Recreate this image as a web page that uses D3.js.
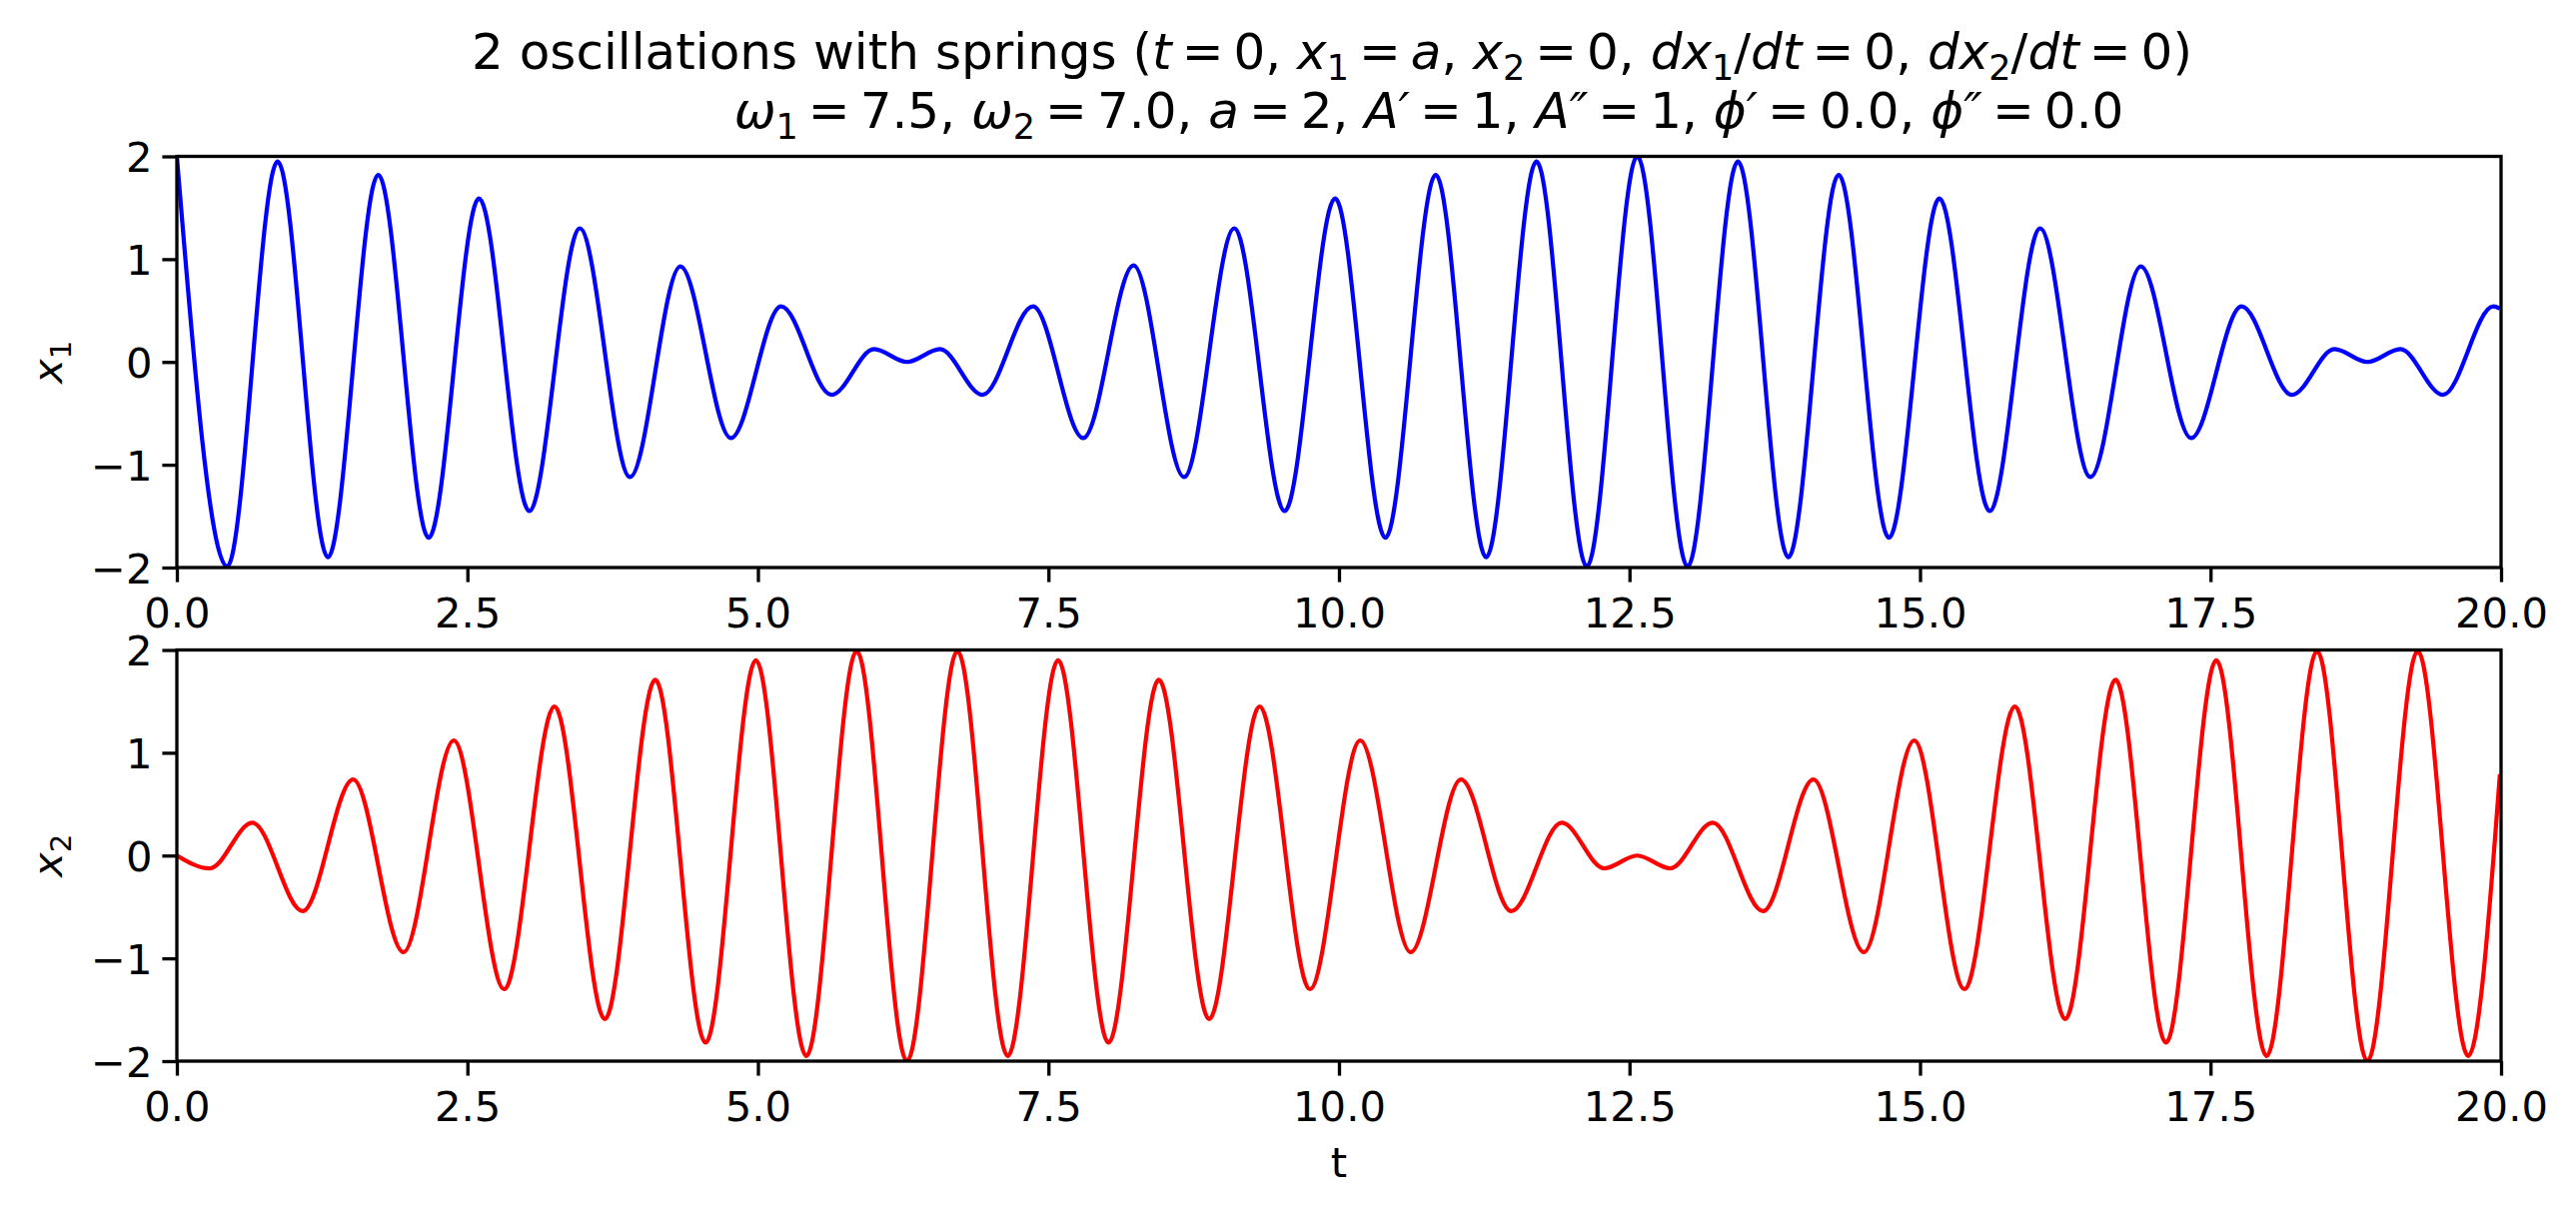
<!DOCTYPE html>
<html>
<head>
<meta charset="utf-8">
<script src="https://cdn.jsdelivr.net/npm/d3@7"></script>
<style>
  html, body { margin: 0; padding: 0; background: #fff; }
  text { font-family: "DejaVu Sans", sans-serif; fill: #000; }
</style>
</head>
<body>
<svg id="chart" width="2578" height="1218"></svg>
<script>
// extrema (t, value), plus the end points
const t1 = [0, 0.433, 0.867, 1.30, 1.733, 2.167, 2.60, 3.033, 3.467, 3.90, 4.333, 4.767, 5.20, 5.633,
            6.00, 6.283, 6.566, 6.933, 7.367, 7.80, 8.233, 8.667, 9.10, 9.533, 9.967, 10.40, 10.833,
            11.267, 11.70, 12.133, 12.567, 13.00, 13.433, 13.867, 14.30, 14.733, 15.167, 15.60, 16.033,
            16.467, 16.90, 17.333, 17.767, 18.20, 18.567, 18.85, 19.133, 19.50, 19.933, 19.99];
const x1 = [2.00, -1.99, 1.95, -1.90, 1.82, -1.71, 1.59, -1.45, 1.30, -1.12, 0.93, -0.74, 0.54, -0.32,
            0.125, 0.00, 0.125, -0.32, 0.54, -0.74, 0.94, -1.12, 1.30, -1.45, 1.59, -1.71, 1.82,
            -1.90, 1.95, -1.99, 2.00, -1.99, 1.95, -1.90, 1.82, -1.71, 1.59, -1.45, 1.30,
            -1.12, 0.93, -0.74, 0.54, -0.32, 0.125, 0.00, 0.125, -0.32, 0.54, 0.52];

const t2 = [0, 0.283, 0.65, 1.083, 1.517, 1.95, 2.383, 2.817, 3.25, 3.683, 4.117, 4.55, 4.983, 5.417,
            5.85, 6.283, 6.717, 7.15, 7.583, 8.017, 8.45, 8.883, 9.317, 9.75, 10.183, 10.617, 11.05,
            11.483, 11.917, 12.283, 12.566, 12.85, 13.217, 13.65, 14.083, 14.517, 14.95, 15.383, 15.817,
            16.25, 16.683, 17.117, 17.55, 17.983, 18.417, 18.85, 19.283, 19.717, 19.99];
const x2 = [0.00, -0.125, 0.32, -0.54, 0.74, -0.94, 1.12, -1.30, 1.45, -1.59, 1.71, -1.82, 1.90, -1.95,
            1.99, -2.00, 1.99, -1.95, 1.90, -1.82, 1.71, -1.59, 1.45, -1.30, 1.12, -0.94, 0.74,
            -0.54, 0.32, -0.125, 0.00, -0.125, 0.32, -0.54, 0.74, -0.94, 1.12, -1.30, 1.45,
            -1.59, 1.71, -1.82, 1.90, -1.95, 1.99, -2.00, 1.99, -1.95, 0.79];

const xTicks = [0, 2.5, 5, 7.5, 10, 12.5, 15, 17.5, 20];
const yTicks = [-2, -1, 0, 1, 2];

const svg = d3.select("#chart");
const left = 177, right = 2503;
const panels = [
  { top: 156.5, bottom: 568, t: t1, v: x1, color: "#0000ff", label: "1" },
  { top: 650.5, bottom: 1062, t: t2, v: x2, color: "#ff0000", label: "2" }
];
const fs = 41.7;
const EQ = "\u2009=\u2009";  // mathtext-ish tight spacing round "="

const x = d3.scaleLinear().domain([0, 20]).range([left, right]);

// mini mathtext: segments [text, kind] with kind r / i / sub
function mathText(sel, segs, size) {
  let shift = 0;
  segs.forEach(([s, k]) => {
    const sp = sel.append("tspan").text(s);
    if (k === "sub") {
      sp.attr("font-size", size * 0.7).attr("dy", size * 0.22 - shift);
      shift = size * 0.22;
    } else {
      sp.attr("font-size", size).attr("dy", -shift);
      shift = 0;
      if (k === "i") sp.attr("font-style", "oblique");
    }
  });
}

panels.forEach((p, i) => {
  const y = d3.scaleLinear().domain([-2, 2]).range([p.bottom, p.top]);
  const g = svg.append("g");

  g.append("clipPath").attr("id", "clip" + i)
    .append("rect").attr("x", left).attr("y", p.top)
    .attr("width", right - left).attr("height", p.bottom - p.top);

  const line = d3.line()
    .x((d, j) => x(p.t[j]))
    .y(d => y(d))
    .curve(d3.curveMonotoneX);

  g.append("path")
    .datum(p.v)
    .attr("clip-path", "url(#clip" + i + ")")
    .attr("d", line)
    .attr("fill", "none")
    .attr("stroke", p.color)
    .attr("stroke-width", 4.2)
    .attr("stroke-linejoin", "round");

  const xAxis = d3.axisBottom(x).tickValues(xTicks)
    .tickFormat(d3.format(".1f")).tickSizeInner(14.6).tickSizeOuter(0).tickPadding(10);
  const yAxis = d3.axisLeft(y).tickValues(yTicks)
    .tickFormat(d => d < 0 ? "\u2212" + Math.abs(d) : d).tickSizeInner(14.6).tickSizeOuter(0).tickPadding(10);

  const gx = g.append("g").attr("transform", "translate(0," + p.bottom + ")").call(xAxis);
  const gy = g.append("g").attr("transform", "translate(" + left + ",0)").call(yAxis);
  [gx, gy].forEach(a => {
    a.select(".domain").remove();
    a.selectAll("line").attr("stroke", "#000").attr("stroke-width", 3.3);
    a.selectAll("text").attr("font-size", fs).attr("font-family", "DejaVu Sans").attr("fill", "#000");
  });
  gx.selectAll("text").attr("dy", null).attr("y", 60).attr("dominant-baseline", "alphabetic");
  gy.selectAll("text").attr("dy", "0.36em");

  g.append("rect")
    .attr("x", left).attr("y", p.top)
    .attr("width", right - left).attr("height", p.bottom - p.top)
    .attr("fill", "none").attr("stroke", "#000").attr("stroke-width", 3.3);

  const yl = g.append("text")
    .attr("transform", "translate(62," + (p.top + p.bottom) / 2 + ") rotate(-90)")
    .attr("text-anchor", "middle");
  mathText(yl, [["x", "i"], [p.label, "sub"]], fs);
});

svg.append("text")
  .attr("x", (left + right) / 2).attr("y", 1178)
  .attr("text-anchor", "middle").attr("font-size", fs)
  .text("t");

const title1 = svg.append("text").attr("x", 1333).attr("y", 69).attr("text-anchor", "middle");
mathText(title1, [
  ["2 oscillations with springs (", "r"], ["t", "i"], [EQ + "0, ", "r"], ["x", "i"], ["1", "sub"],
  [EQ, "r"], ["a", "i"], [", ", "r"], ["x", "i"], ["2", "sub"], [EQ + "0, ", "r"],
  ["dx", "i"], ["1", "sub"], ["/", "r"], ["dt", "i"], [EQ + "0, ", "r"],
  ["dx", "i"], ["2", "sub"], ["/", "r"], ["dt", "i"], [EQ + "0)", "r"]
], 50);

const title2 = svg.append("text").attr("x", 1430).attr("y", 128).attr("text-anchor", "middle");
mathText(title2, [
  ["\u03c9", "i"], ["1", "sub"], [EQ + "7.5, ", "r"], ["\u03c9", "i"], ["2", "sub"], [EQ + "7.0, ", "r"],
  ["a", "i"], [EQ + "2, ", "r"], ["A\u2032", "i"], [EQ + "1, ", "r"], ["A\u2033", "i"], [EQ + "1, ", "r"],
  ["\u03d5\u2032", "i"], [EQ + "0.0, ", "r"], ["\u03d5\u2033", "i"], [EQ + "0.0", "r"]
], 50);
</script>
</body>
</html>
